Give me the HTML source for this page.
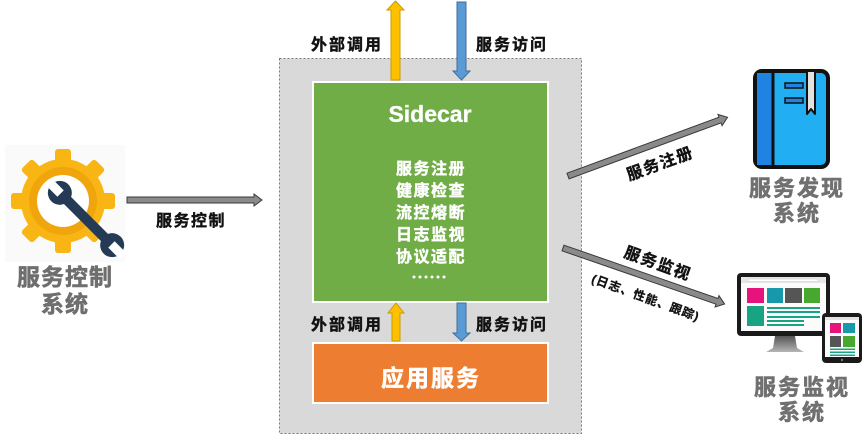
<!DOCTYPE html>
<html>
<head>
<meta charset="utf-8">
<style>
  html,body{margin:0;padding:0;background:#fff;}
  body{width:864px;height:441px;overflow:hidden;}
  svg{display:block;}
  text{font-family:"Liberation Sans","Noto Sans CJK SC",sans-serif;font-weight:bold;}
</style>
</head>
<body>
<svg width="864" height="441" viewBox="0 0 864 441" xmlns="http://www.w3.org/2000/svg">
  <defs>
    <linearGradient id="stand" x1="0" y1="0" x2="0" y2="1">
      <stop offset="0" stop-color="#555"/>
      <stop offset="1" stop-color="#b5b5b5"/>
    </linearGradient>
  </defs>

  <!-- Gray dashed container -->
  <rect x="279.5" y="58.5" width="302" height="375" fill="#D9D9D9" stroke="#7a7a7a" stroke-width="1" stroke-dasharray="2,2"/>

  <!-- Green sidecar box -->
  <rect x="313" y="82" width="235" height="220" fill="#70AD47" stroke="#ffffff" stroke-width="2"/>
  <text x="430" y="122" text-anchor="middle" font-size="23" fill="#fff" stroke="#fff" stroke-width="0.3">Sidecar</text>
  <g font-size="16" fill="#fff" stroke="#fff" stroke-width="0.4" text-anchor="middle" letter-spacing="1.5">
    <text x="431" y="174">服务注册</text>
    <text x="431" y="196">健康检查</text>
    <text x="431" y="218">流控熔断</text>
    <text x="431" y="240">日志监视</text>
    <text x="431" y="262">协议适配</text>
  </g>
  <g fill="#fff">
    <circle cx="414" cy="277" r="1.5"/><circle cx="420" cy="277" r="1.5"/><circle cx="426" cy="277" r="1.5"/>
    <circle cx="432" cy="277" r="1.5"/><circle cx="438" cy="277" r="1.5"/><circle cx="444" cy="277" r="1.5"/>
  </g>

  <!-- Orange app box -->
  <rect x="313" y="343" width="235" height="60" fill="#ED7D31" stroke="#ffffff" stroke-width="2"/>
  <text x="431" y="386" text-anchor="middle" font-size="23" fill="#fff" stroke="#fff" stroke-width="0.5" letter-spacing="2">应用服务</text>

  <!-- Top arrows -->
  <polygon points="391,80 391,10 387,10 395.5,1 404,10 400,10 400,80" fill="#FFC000" stroke="#C99A00" stroke-width="1"/>
  <polygon points="457,2 466,2 466,71 470,71 461.5,80 453,71 457,71" fill="#5B9BD5" stroke="#3F6F9C" stroke-width="1"/>
  <g font-size="16" fill="#111" stroke="#111" stroke-width="0.4" text-anchor="middle" letter-spacing="2">
    <text x="347" y="50">外部调用</text>
    <text x="512" y="50">服务访问</text>
  </g>

  <!-- Lower arrows -->
  <polygon points="392,341 392,313 388,313 396,303 404,313 400,313 400,341" fill="#FFC000" stroke="#C99A00" stroke-width="1"/>
  <polygon points="457,303 466,303 466,333 470,333 461.5,341 453,333 457,333" fill="#5B9BD5" stroke="#3F6F9C" stroke-width="1"/>
  <g font-size="16" fill="#111" stroke="#111" stroke-width="0.4" text-anchor="middle" letter-spacing="2">
    <text x="347" y="330">外部调用</text>
    <text x="512" y="330">服务访问</text>
  </g>

  <!-- Gear icon -->
  <rect x="5" y="145" width="120" height="117" fill="#fafafa"/>
  <g transform="translate(63,201)">
    <g fill="#F8B514">
      <rect x="-8" y="-52" width="16" height="20" rx="3"/>
      <rect x="-8" y="-52" width="16" height="20" rx="3" transform="rotate(45)"/>
      <rect x="-8" y="-52" width="16" height="20" rx="3" transform="rotate(90)"/>
      <rect x="-8" y="-52" width="16" height="20" rx="3" transform="rotate(135)"/>
      <rect x="-8" y="-52" width="16" height="20" rx="3" transform="rotate(180)"/>
      <rect x="-8" y="-52" width="16" height="20" rx="3" transform="rotate(225)"/>
      <rect x="-8" y="-52" width="16" height="20" rx="3" transform="rotate(270)"/>
      <rect x="-8" y="-52" width="16" height="20" rx="3" transform="rotate(315)"/>
      <circle r="42"/>
    </g>
    <circle r="34" fill="#F0A50C"/>
    <circle r="26" fill="#ffffff"/>
  </g>
  <g transform="translate(86,219) rotate(45)" fill="#243A55">
    <rect x="-37" y="-5" width="74" height="10"/>
    <circle cx="-37" cy="0" r="12"/>
    <circle cx="37" cy="0" r="12"/>
    <rect x="-52" y="-4.5" width="16" height="9" fill="#ffffff"/>
    <rect x="36" y="-4.5" width="16" height="9" fill="#ffffff"/>
  </g>
  <g font-size="23" fill="#6e6e6e" stroke="#6e6e6e" stroke-width="0.6" text-anchor="middle" letter-spacing="1">
    <text x="65" y="285">服务控制</text>
    <text x="65" y="312">系统</text>
  </g>

  <!-- Arrow: 服务控制 -->
  <g transform="translate(127,200)">
    <polygon points="0,-3 127,-3 127,-6 135,0 127,6 127,3 0,3" fill="#8A8A8A" stroke="#3a3a3a" stroke-width="1"/>
  </g>
  <text x="191" y="226" text-anchor="middle" font-size="16" fill="#111" stroke="#111" stroke-width="0.4" letter-spacing="1.5">服务控制</text>

  <!-- Arrow: 服务注册 -->
  <g transform="translate(568,176) rotate(-20.2)">
    <polygon points="0,-3 162,-3 162,-6 170,0 162,6 162,3 0,3" fill="#8A8A8A" stroke="#3a3a3a" stroke-width="1"/>
  </g>
  <text transform="translate(660,163) rotate(-20)" x="0" y="6" text-anchor="middle" font-size="16" fill="#111" stroke="#111" stroke-width="0.4" letter-spacing="1.5">服务注册</text>

  <!-- Arrow: 服务监视 -->
  <g transform="translate(563,248) rotate(19.1)">
    <polygon points="0,-3 163,-3 163,-6 171,0 163,6 163,3 0,3" fill="#8A8A8A" stroke="#3a3a3a" stroke-width="1"/>
  </g>
  <text transform="translate(658,263) rotate(20)" x="0" y="6" text-anchor="middle" font-size="16" fill="#111" stroke="#111" stroke-width="0.4" letter-spacing="1.5">服务监视</text>
  <text transform="translate(646,297) rotate(20)" x="0" y="5" text-anchor="middle" font-size="12" fill="#111" stroke="#111" stroke-width="0.3" letter-spacing="1">(日志、性能、跟踪)</text>

  <!-- Book icon -->
  <rect x="755" y="71" width="73" height="96" rx="7" fill="#22AEF2" stroke="#111" stroke-width="4"/>
  <path d="M757,73 H772 V165 H757 Z" fill="#1E83E3"/>
  <line x1="773" y1="71" x2="773" y2="167" stroke="#111" stroke-width="3"/>
  <polygon points="807,71 815,71 815,114 811,109 807,114" fill="#E2E2E2" stroke="#111" stroke-width="2" stroke-linejoin="round"/>
  <rect x="785" y="83" width="18" height="5" fill="#1E83E3" stroke="#111" stroke-width="1.5"/>
  <rect x="785" y="98" width="18" height="5" fill="#1E83E3" stroke="#111" stroke-width="1.5"/>
  <g font-size="22" fill="#707070" stroke="#707070" stroke-width="0.6" text-anchor="middle" letter-spacing="2">
    <text x="797" y="196">服务发现</text>
    <text x="797" y="221">系统</text>
  </g>

  <!-- Monitor icon -->
  <polygon points="775,336 795,336 797,348 804,352 766,352 773,348" fill="url(#stand)"/>
  <rect x="737" y="273" width="93" height="63" rx="4" fill="#1a1a1a"/>
  <rect x="741" y="277" width="85" height="54" fill="#fbfbfb"/>
  <rect x="741" y="277" width="85" height="6" fill="#e6e6e6"/>
  <rect x="748" y="279" width="70" height="2.5" fill="#ffffff" stroke="#c8c8c8" stroke-width="0.5"/>
  <rect x="747" y="288" width="17" height="15" fill="#E8127C"/>
  <rect x="767" y="288" width="16" height="15" fill="#1798AB"/>
  <rect x="785" y="288" width="17" height="15" fill="#555555"/>
  <rect x="804" y="288" width="16" height="15" fill="#47A72F"/>
  <rect x="747" y="306" width="17" height="20" fill="#1AA383"/>
  <g fill="#1AA383">
    <rect x="767" y="307" width="53" height="2"/>
    <rect x="767" y="311" width="53" height="2"/>
    <rect x="767" y="316" width="53" height="2"/>
    <rect x="767" y="320" width="37" height="2"/>
    <rect x="767" y="324" width="37" height="2"/>
  </g>

  <!-- Tablet icon -->
  <rect x="822" y="313" width="40" height="50" rx="4" fill="#1a1a1a"/>
  <rect x="825" y="317" width="34" height="40" fill="#fbfbfb"/>
  <rect x="825" y="317" width="34" height="3" fill="#e3e3e3"/>
  <rect x="830" y="323" width="11" height="10" fill="#E8127C"/>
  <rect x="843" y="323" width="12" height="10" fill="#1798AB"/>
  <rect x="830" y="336" width="11" height="11" fill="#555555"/>
  <rect x="843" y="336" width="12" height="11" fill="#47A72F"/>
  <g fill="#1AA383">
    <rect x="830" y="348.5" width="25" height="1.5"/>
    <rect x="830" y="351.5" width="25" height="1.5"/>
    <rect x="830" y="354.5" width="25" height="1.5"/>
  </g>
  <circle cx="842" cy="360" r="1.2" fill="#777"/>

  <g font-size="22" fill="#707070" stroke="#707070" stroke-width="0.6" text-anchor="middle" letter-spacing="2">
    <text x="802" y="395">服务监视</text>
    <text x="802" y="420">系统</text>
  </g>
</svg>
</body>
</html>
